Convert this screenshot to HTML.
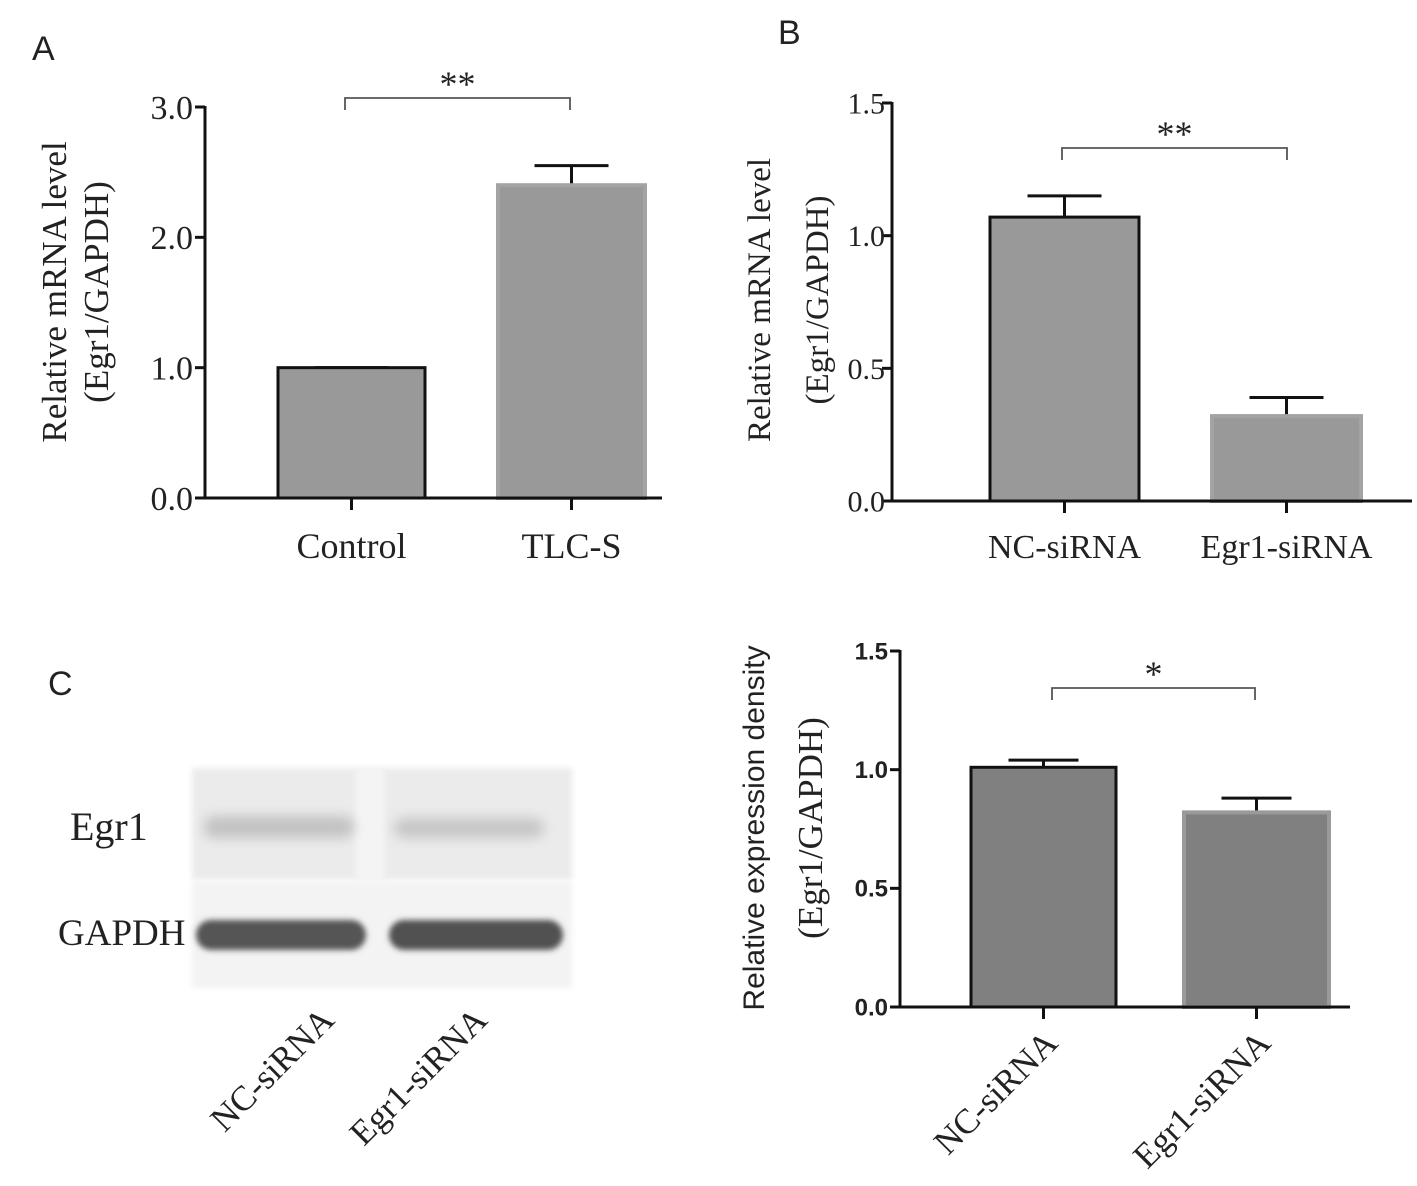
<!DOCTYPE html>
<html><head><meta charset="utf-8"><style>
body{margin:0;background:#fff}
svg text{font-family:"Liberation Serif",serif;fill:#222}
.sans{font-family:"Liberation Sans",sans-serif}
</style></head><body>
<svg id="fig" width="1417" height="1181" viewBox="0 0 1417 1181">
<defs>
<filter id="blur" x="-20%" y="-50%" width="140%" height="200%"><feGaussianBlur stdDeviation="6"/></filter>
<filter id="blur2" x="-10%" y="-50%" width="120%" height="200%"><feGaussianBlur stdDeviation="3"/></filter>
</defs>
<text class="sans" x="32" y="60" font-size="34">A</text>
<text class="sans" x="778" y="44" font-size="34">B</text>
<text class="sans" x="48" y="695" font-size="34">C</text>

<g>
<rect x="192" y="768" width="380" height="112" fill="#ebebeb" filter="url(#blur2)"/>
<rect x="355" y="768" width="30" height="112" fill="#f4f4f4" filter="url(#blur2)"/>
<rect x="204" y="816" width="150" height="22" rx="10" fill="#c2c2c2" filter="url(#blur)"/>
<rect x="394" y="818" width="150" height="20" rx="10" fill="#c6c6c6" filter="url(#blur)"/>
<rect x="192" y="882" width="380" height="106" fill="#f3f3f3" filter="url(#blur2)"/>
<rect x="196" y="920" width="170" height="30" rx="15" fill="#555" filter="url(#blur2)"/>
<rect x="389" y="920" width="174" height="30" rx="15" fill="#515151" filter="url(#blur2)"/>
<text x="70" y="840" font-size="40">Egr1</text>
<text x="58" y="945" font-size="37">GAPDH</text>
<text x="0" y="0" font-size="35" transform="translate(336,1022) rotate(-45)" text-anchor="end">NC-siRNA</text>
<text x="0" y="0" font-size="35" transform="translate(489,1022) rotate(-45)" text-anchor="end">Egr1-siRNA</text>
</g>
<g id="charts"></g>
</svg>
<script>
const catsA=["Control","TLC-S"], valsA=[1.0,2.4], errA=[0.0,0.15], ticksA=[0,1,2,3], tickLabA=["0.0","1.0","2.0","3.0"];
const catsB=["NC-siRNA","Egr1-siRNA"], valsB=[1.07,0.32], errB=[0.08,0.07], ticksB=[0,0.5,1,1.5], tickLabB=["0.0","0.5","1.0","1.5"];
const catsD=["NC-siRNA","Egr1-siRNA"], valsD=[1.01,0.82], errD=[0.03,0.06], ticksD=[0,0.5,1,1.5], tickLabD=["0.0","0.5","1.0","1.5"];
const NS="http://www.w3.org/2000/svg";
const root=document.getElementById('charts');
function el(t,a,p){const e=document.createElementNS(NS,t);for(const k in a)e.setAttribute(k,a[k]);(p||root).appendChild(e);return e;}
function chart(cfg){
 const g=el('g',{});
 
 
 const y=v=>cfg.y0-(v-cfg.vmin)/(cfg.vmax-cfg.vmin)*(cfg.y0-cfg.ytop);
 const xc=i=>cfg.bx[0]+i*(cfg.bx[1]-cfg.bx[0]);
 cfg.vals.forEach((v,i)=>{
  const cx=xc(i)+cfg.bw/2;
  const top=y(v), et=y(v+cfg.err[i]);
  const ew=el('line',{x1:cx,x2:cx,y1:top,y2:et,stroke:'#111','stroke-width':3},g);
  
  
  const ec=el('line',{x1:cx-cfg.cap,x2:cx+cfg.cap,y1:et,y2:et,stroke:'#111','stroke-width':3},g);
  
  
  const r=el('rect',{x:xc(i),y:top,width:cfg.bw,height:cfg.y0-top,fill:cfg.fill,stroke:i==0?'#111':cfg.fill2,'stroke-width':i==0?3:4},g);
  
  
  const tk=el('line',{x1:cx,x2:cx,y1:cfg.y0,y2:cfg.y0+12,stroke:'#111','stroke-width':3},g);
  
  
  let lb;
  if(cfg.rot){lb=el('text',{x:0,y:0,'font-size':35,'text-anchor':'end',transform:`translate(${cx+16},${cfg.y0+38}) rotate(-45)`},g);}
  else {lb=el('text',{x:cx,y:cfg.labY,'font-size':cfg.lfs,'text-anchor':'middle'},g);}
  lb.textContent=cfg.cats[i];
  
  
 });
 const ya=el('line',{x1:cfg.ax,x2:cfg.ax,y1:cfg.ytop-1,y2:cfg.y0+1,stroke:'#111','stroke-width':3},g);
 
 
 const xa=el('line',{x1:cfg.ax-10,x2:cfg.xend,y1:cfg.y0,y2:cfg.y0,stroke:'#111','stroke-width':3},g);
 
 
 cfg.ticks.forEach((t,i)=>{
  const tl=el('line',{x1:cfg.ax-10,x2:cfg.ax,y1:y(t),y2:y(t),stroke:'#111','stroke-width':3},g);
  
  
  const tx=el('text',{x:cfg.ax-(cfg.tgap||12),y:y(t)+cfg.tfs*0.35,'font-size':cfg.tfs,'text-anchor':'end','font-weight':cfg.sans?'bold':'normal'},g);
  if(cfg.sans)tx.setAttribute('class','sans');
  tx.textContent=cfg.tickLab[i];
  
  
 });
 const b=cfg.br;
 const bp=el('path',{d:`M${b[0]},${b[2]+12}V${b[2]}H${b[1]}V${b[2]+12}`,fill:'none',stroke:'#555','stroke-width':1.8},g);
 
 
 const st=el('text',{x:(b[0]+b[1])/2,y:b[2]-2,'font-size':36,'text-anchor':'middle',fill:'#444'},g);
 st.textContent=cfg.star;
 
 
 cfg.titles.forEach((t,i)=>{
  const tt=el('text',{x:0,y:0,'font-size':t[2],'text-anchor':'middle',transform:`translate(${t[1]},${cfg.tcy}) rotate(-90)`},g);
  if(t[3])tt.setAttribute('class','sans');
  tt.textContent=t[0];
  
  
 });
}
chart({name:'chart-a',cats:catsA,vals:valsA,err:errA,ticks:ticksA,tickLab:tickLabA,vmin:0,vmax:3,y0:498,ytop:107,ax:205,xend:662,bx:[278,498],bw:147,cap:37,fill:'#999',fill2:'#a3a3a3',labY:558,lfs:36,tfs:34,br:[345,570,98],star:'**',titles:[["Relative mRNA level",66,35],["(Egr1/GAPDH)",108,35]],tcy:292});
chart({name:'chart-b',cats:catsB,vals:valsB,err:errB,ticks:ticksB,tickLab:tickLabB,vmin:0,vmax:1.5,y0:501,ytop:103,ax:892,xend:1412,bx:[990,1212],bw:149,cap:37,fill:'#999',fill2:'#a3a3a3',labY:558,lfs:34,tfs:30,tgap:7,br:[1062,1287,148],star:'**',titles:[["Relative mRNA level",770,33],["(Egr1/GAPDH)",828,33]],tcy:300});
chart({name:'chart-d',cats:catsD,vals:valsD,err:errD,ticks:ticksD,tickLab:tickLabD,vmin:0,vmax:1.5,y0:1007,ytop:651,ax:900,xend:1350,bx:[971,1184],bw:145,cap:35,fill:'#808080',fill2:'#9a9a9a',rot:true,tfs:24,sans:true,br:[1052,1255,688],star:'*',titles:[["Relative expression density",764,30,true],["(Egr1/GAPDH)",822,35]],tcy:828});
</script>
</body></html>
